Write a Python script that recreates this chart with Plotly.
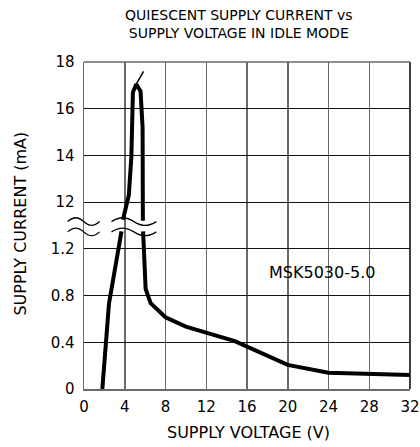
import plotly.graph_objects as go

# ---- data ----
x_ticks = [0, 4, 8, 12, 16, 20, 24, 28, 32]
lower_ticks = [0, 0.4, 0.8, 1.2]
lower_labels = ["0", "0.4", "0.8", "1.2"]
upper_ticks = [12, 14, 16, 18]
upper_labels = ["12", "14", "16", "18"]

rise_lo_v = [1.8, 2.45, 3.68]
rise_lo_i = [0, 0.73, 1.35]

peak_v = [3.82, 4.4, 4.65, 4.8, 5.13, 5.55, 5.75, 5.78]
peak_i = [11.25, 12.3, 13.95, 16.7, 17.05, 16.75, 15.2, 11.2]

tip_v = [5.13, 5.85]
tip_i = [17.05, 17.6]

fall_lo_v = [5.8, 5.85, 6.05, 6.54, 8.0, 10.0, 14.8, 20.0, 24.0, 32.0]
fall_lo_i = [1.35, 1.2, 0.857, 0.735, 0.614, 0.534, 0.41, 0.206, 0.14, 0.12]

FONT = "DejaVu Sans"
GRIDV = "#6a6a6a"
GRIDH = "#111111"

fig = go.Figure()
line = dict(color="black", width=4)
fig.add_trace(go.Scatter(x=rise_lo_v, y=rise_lo_i, mode="lines", line=line, xaxis="x", yaxis="y"))
fig.add_trace(go.Scatter(x=fall_lo_v, y=fall_lo_i, mode="lines", line=line, xaxis="x", yaxis="y"))
fig.add_trace(go.Scatter(x=peak_v, y=peak_i, mode="lines", line=line, xaxis="x2", yaxis="y2"))
fig.add_trace(go.Scatter(x=tip_v, y=tip_i, mode="lines", line=dict(color="black", width=1.5),
                         xaxis="x2", yaxis="y2"))


def wave(x0, x1, yc, a):
    w = x1 - x0
    xm = x0 + w / 2
    k = w * 0.18
    return (f"M {x0},{yc} C {x0 + k},{yc + a * 1.3} {xm - k},{yc + a * 1.3} {xm},{yc} "
            f"C {xm + k},{yc - a * 1.3} {x1 - k},{yc - a * 1.3} {x1},{yc}")


shapes = []
for yc in (0.512, 0.4805):
    shapes.append(dict(type="path", xref="paper", yref="paper",
                       path=wave(-0.05, 0.048, yc, 0.012),
                       line=dict(color="black", width=1.3)))
    shapes.append(dict(type="path", xref="x", yref="paper",
                       path=wave(2.7, 7.1, yc, 0.012),
                       line=dict(color="black", width=1.3)))
# right and top borders
shapes.append(dict(type="line", xref="paper", yref="paper", x0=1, x1=1, y0=0, y1=1,
                   line=dict(color="black", width=1.5)))
shapes.append(dict(type="line", xref="paper", yref="paper", x0=0, x1=1, y0=1, y1=1,
                   line=dict(color=GRIDV, width=1.5)))

xcommon = dict(range=[0, 32], tickvals=x_ticks, showgrid=True, gridcolor=GRIDV, gridwidth=1.5,
               zeroline=False, fixedrange=True, automargin=False)
ycommon = dict(showgrid=True, gridcolor=GRIDH, gridwidth=1, zeroline=False,
               showline=True, linecolor=GRIDV, linewidth=1.5, ticks="",
               ticklabelstandoff=5, tickfont=dict(size=15), fixedrange=True, automargin=False)

fig.update_layout(
    width=420, height=447,
    margin=dict(l=84, r=10, t=62, b=58, autoexpand=False),
    paper_bgcolor="white", plot_bgcolor="white",
    showlegend=False,
    hovermode=False,
    font=dict(family=FONT, color="black", size=15),
    xaxis=dict(**xcommon, anchor="y", showline=True, linecolor=GRIDV, linewidth=1.5,
               ticks="", ticklabelstandoff=3, tickfont=dict(size=15)),
    xaxis2=dict(**xcommon, anchor="y2", matches="x", showticklabels=False, ticks=""),
    yaxis=dict(**ycommon, domain=[0, 0.5], range=[0, 1.4], tickvals=lower_ticks,
               ticktext=lower_labels),
    yaxis2=dict(**ycommon, domain=[0.5, 1], range=[11, 18], tickvals=upper_ticks,
                ticktext=upper_labels),
    shapes=shapes,
    annotations=[
        dict(text="QUIESCENT SUPPLY CURRENT vs<br>SUPPLY VOLTAGE IN IDLE MODE",
             xref="paper", yref="paper", x=0.475, y=1.117, xanchor="center", yanchor="middle",
             showarrow=False, font=dict(size=14, family=FONT)),
        dict(text="SUPPLY VOLTAGE (V)", xref="paper", yref="paper", x=0.504, y=-0.1316,
             xanchor="center", yanchor="middle", showarrow=False, font=dict(size=16, family=FONT)),
        dict(text="SUPPLY CURRENT (mA)", xref="paper", yref="paper", x=-0.194, y=0.505,
             xanchor="center", yanchor="middle", textangle=-90, showarrow=False,
             font=dict(size=16, family=FONT)),
        dict(text="MSK5030-5.0", xref="x", yref="y", x=23.4, y=1.0, xanchor="center",
             yanchor="middle", showarrow=False, font=dict(size=16, family=FONT)),
    ],
)

# remove the browser's default 8px page margin so the figure fills the window exactly
fig.write_html("out.html", config={"displayModeBar": False, "staticPlot": True},
               post_script="document.body.style.margin='0px';document.body.style.overflow='hidden';")
